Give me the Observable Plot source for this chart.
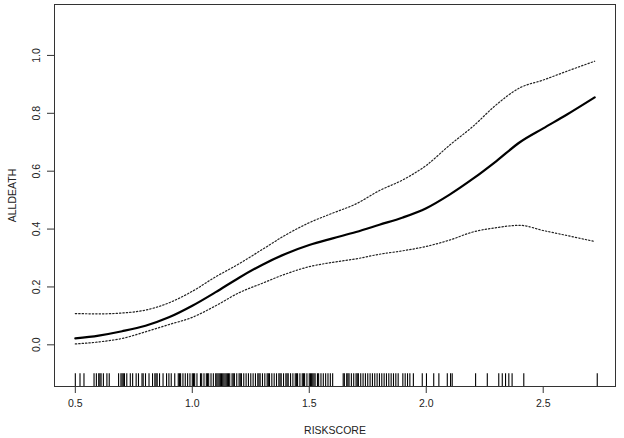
<!DOCTYPE html>
<html>
<head>
<meta charset="utf-8">
<script src="https://cdn.jsdelivr.net/npm/d3@7"></script>
<script src="https://cdn.jsdelivr.net/npm/@observablehq/plot@0.6"></script>
<style>
  html, body { margin: 0; padding: 0; background: #fff; }
  #chart { width: 624px; height: 438px; }
</style>
</head>
<body>
<div id="chart"></div>
<script>
const xs    = [0.5, 0.6, 0.7, 0.8, 0.9, 1.0, 1.1, 1.2, 1.3, 1.4, 1.5, 1.6, 1.7, 1.8, 1.9, 2.0, 2.1, 2.2, 2.3, 2.4, 2.5, 2.6, 2.72];
const fit   = [0.022, 0.032, 0.047, 0.066, 0.095, 0.135, 0.182, 0.232, 0.277, 0.315, 0.345, 0.368, 0.39, 0.415, 0.44, 0.472, 0.519, 0.574, 0.635, 0.70, 0.748, 0.795, 0.855];
const upper = [0.108, 0.107, 0.11, 0.12, 0.145, 0.185, 0.235, 0.28, 0.33, 0.38, 0.422, 0.455, 0.487, 0.533, 0.57, 0.62, 0.69, 0.755, 0.83, 0.888, 0.915, 0.945, 0.98];
const lower = [0.003, 0.01, 0.022, 0.045, 0.07, 0.095, 0.135, 0.18, 0.213, 0.245, 0.27, 0.285, 0.297, 0.313, 0.325, 0.34, 0.362, 0.39, 0.405, 0.413, 0.395, 0.378, 0.357];
const rug = [0.50, 0.52, 0.537, 0.58, 0.59, 0.60, 0.605, 0.61, 0.62, 0.635, 0.645,
  0.685, 0.695, 0.70, 0.705, 0.71, 0.72, 0.735, 0.745, 0.76, 0.77, 0.785, 0.79, 0.80, 0.815, 0.83, 0.84, 0.845, 0.85, 0.86, 0.875, 0.89, 0.90,
  0.91, 0.925, 0.94, 0.945, 0.95, 0.96, 0.97, 0.98, 0.99, 1.00, 1.005, 1.01, 1.02, 1.035, 1.04, 1.05, 1.06, 1.065, 1.07, 1.08, 1.09, 1.10, 1.105, 1.11,
  1.115, 1.12, 1.125, 1.13, 1.135, 1.14, 1.145, 1.15, 1.155, 1.16, 1.17, 1.175, 1.18, 1.19, 1.20, 1.205, 1.21, 1.22, 1.23, 1.24, 1.25, 1.26, 1.27, 1.28, 1.285, 1.29,
  1.30, 1.31, 1.32, 1.325, 1.33, 1.34, 1.35, 1.36, 1.37, 1.375, 1.38, 1.39, 1.40, 1.405, 1.41, 1.42, 1.43, 1.44, 1.445, 1.45, 1.46, 1.47, 1.475, 1.48, 1.49,
  1.50, 1.505, 1.51, 1.515, 1.52, 1.525, 1.535, 1.54, 1.55, 1.56, 1.57, 1.58, 1.59, 1.60, 1.645, 1.65, 1.66, 1.665, 1.67, 1.68, 1.69, 1.70, 1.705, 1.71, 1.72, 1.73,
  1.74, 1.75, 1.76, 1.77, 1.78, 1.79, 1.80, 1.81, 1.82, 1.83, 1.84, 1.85, 1.86, 1.87, 1.88, 1.90, 1.91, 1.92, 1.93, 1.945,
  1.983, 2.001, 2.032, 2.054, 2.09, 2.104, 2.111, 2.211, 2.261, 2.31, 2.325, 2.339, 2.353, 2.367, 2.417, 2.731];
const xTicks = [0.5, 1.0, 1.5, 2.0, 2.5];
const yTicks = [0.0, 0.2, 0.4, 0.6, 0.8, 1.0];
const xTitle = "RISKSCORE";
const yTitle = "ALLDEATH";

const curve = xs.map((x, i) => ({x, fit: fit[i], upper: upper[i], lower: lower[i]}));
const yMin = -0.144, yMax = 1.176, rugTop = -0.1;

const plot = Plot.plot({
  width: 624,
  height: 438,
  marginLeft: 54,
  marginRight: 9,
  marginTop: 4,
  marginBottom: 52,
  style: {fontFamily: "'Liberation Sans', Arial, sans-serif", fontSize: "10.5px", color: "#222", background: "#fff"},
  x: {domain: [0.411, 2.809], label: null},
  y: {domain: [yMin, yMax], label: null},
  marks: [
    Plot.axisX({ticks: xTicks, tickSize: 7, tickPadding: 6, tickFormat: d3.format(".1f"), label: null, stroke: "#333"}),
    Plot.axisY({ticks: yTicks, tickSize: 7, tickPadding: 8, tickRotate: -90, tickFormat: d3.format(".1f"), label: null, stroke: "#333"}),
    Plot.ruleX(rug, {x: d => d, y1: yMin, y2: rugTop, stroke: "#000", strokeWidth: 1.1}),
    Plot.line(curve, {x: "x", y: "upper", curve: "monotone-x", stroke: "#222", strokeWidth: 1.2, strokeDasharray: "1.4,2"}),
    Plot.line(curve, {x: "x", y: "lower", curve: "monotone-x", stroke: "#222", strokeWidth: 1.2, strokeDasharray: "1.4,2"}),
    Plot.line(curve, {x: "x", y: "fit", curve: "monotone-x", stroke: "#000", strokeWidth: 2.2}),
    Plot.frame({stroke: "#333", strokeWidth: 1}),
    Plot.text([xTitle], {frameAnchor: "bottom", dy: 44, lineAnchor: "middle", textAnchor: "middle", fill: "#222"}),
    Plot.text([yTitle], {frameAnchor: "left", dx: -42, rotate: -90, lineAnchor: "middle", textAnchor: "middle", fill: "#222"})
  ]
});
document.getElementById("chart").appendChild(plot);
</script>
</body>
</html>
